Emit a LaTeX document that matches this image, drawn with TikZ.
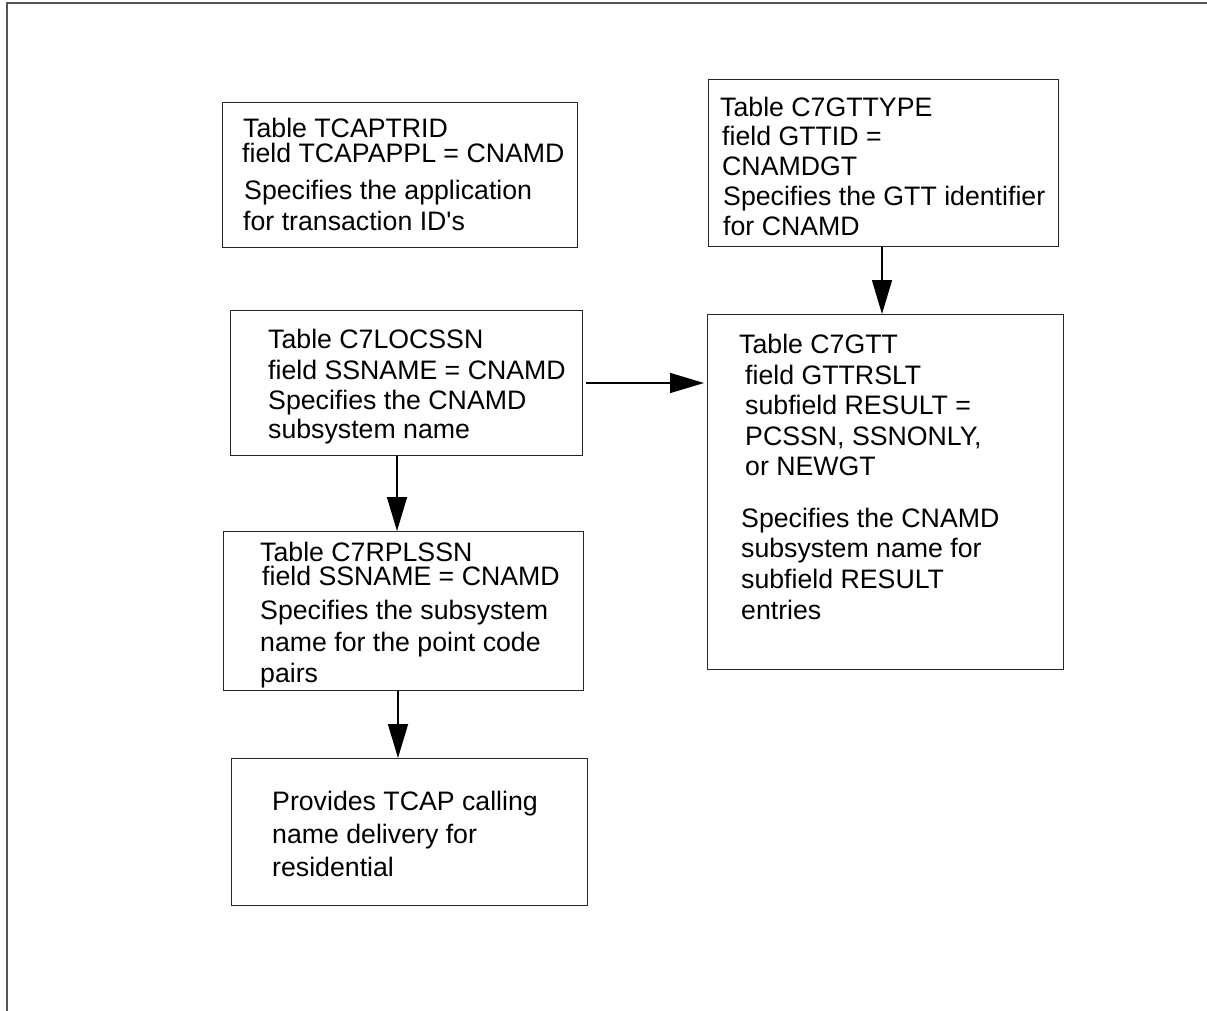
\documentclass[tikz,border=0pt]{standalone}
\usepackage{fontspec}
\setmainfont{Liberation Sans}[Ligatures=TeXOff]
\usetikzlibrary{arrows.meta}

\begin{document}
\begin{tikzpicture}[x=1pt, y=-1pt,
  tbox/.style={draw=black!85, line width=1.2pt, inner sep=0pt, anchor=north west},
  txt/.style={anchor=base west, inner sep=0pt, font=\fontsize{26.7}{30}\selectfont},
  arr/.style={line width=1.6pt, -{Triangle[length=34pt, width=20pt]}},
  frameline/.style={draw={rgb,255:red,85;green,85;blue,85}, line width=2pt}
]
\useasboundingbox (0,0) rectangle (1207,1011);

% open frame: top edge and left edge
\draw[frameline] (1207,3.5) -- (6.5,3.5) -- (6.5,1011);

% boxes
\node[tbox, minimum width=355pt, minimum height=145pt] (trid)  at (222,102) {};
\node[tbox, minimum width=350pt, minimum height=167pt] (gtype) at (708,79)  {};
\node[tbox, minimum width=352pt, minimum height=145pt] (loc)   at (230,310) {};
\node[tbox, minimum width=356pt, minimum height=355pt] (gtt)   at (707,314) {};
\node[tbox, minimum width=360pt, minimum height=159pt] (rpl)   at (223,531) {};
\node[tbox, minimum width=356pt, minimum height=147pt] (prov)  at (231,758) {};

% texts of table TCAPTRID
\node[txt] (trid1) at (243,138) {Table TCAPTRID};
\node[txt] (trid2) at (242,163) {field TCAPAPPL = CNAMD};
\node[txt] (trid3) at (244,200) {Specifies the application};
\node[txt] (trid4) at (243,230) {for transaction ID's};

% texts of table C7GTTYPE
\node[txt] (gtype1) at (720,117) {Table C7GTTYPE};
\node[txt] (gtype2) at (722,146) {field GTTID =};
\node[txt] (gtype3) at (722,176) {CNAMDGT};
\node[txt] (gtype4) at (723,206) {Specifies the GTT identifier};
\node[txt] (gtype5) at (723,236) {for CNAMD};

% texts of table C7LOCSSN
\node[txt] (loc1) at (268,348) {Table C7LOCSSN};
\node[txt] (loc2) at (268,379) {field SSNAME = CNAMD};
\node[txt] (loc3) at (268,409) {Specifies the CNAMD};
\node[txt] (loc4) at (268,438) {subsystem name};

% texts of table C7GTT
\node[txt] (gtt1) at (739,353) {Table C7GTT};
\node[txt] (gtt2) at (745,384) {field GTTRSLT};
\node[txt] (gtt3) at (745,414) {subfield RESULT =};
\node[txt] (gtt4) at (745,445) {PCSSN, SSNONLY,};
\node[txt] (gtt5) at (745,475) {or NEWGT};
\node[txt] (gtt6) at (741,527) {Specifies the CNAMD};
\node[txt] (gtt7) at (741,557) {subsystem name for};
\node[txt] (gtt8) at (741,588) {subfield RESULT};
\node[txt] (gtt9) at (741,619) {entries};

% texts of table C7RPLSSN
\node[txt] (rpl1) at (260,561) {Table C7RPLSSN};
\node[txt] (rpl2) at (262,585) {field SSNAME = CNAMD};
\node[txt] (rpl3) at (260,619) {Specifies the subsystem};
\node[txt] (rpl4) at (260,651) {name for the point code};
\node[txt] (rpl5) at (260,682) {pairs};

% result
\node[txt] (prov1) at (272,810) {Provides TCAP calling};
\node[txt] (prov2) at (272,843) {name delivery for};
\node[txt] (prov3) at (272,876) {residential};

% connectors
\coordinate (xa) at (882,0);
\coordinate (xb) at (397,0);
\coordinate (xc) at (398,0);
\coordinate (ya) at (0,383);
\draw[arr] (xa |- gtype.south) -- (xa |- gtt.north);
\draw[arr, shorten <=3pt, shorten >=3pt] (ya -| loc.east) -- (ya -| gtt.west);
\draw[arr] (xb |- loc.south) -- (xb |- rpl.north);
\draw[arr] (xc |- rpl.south) -- (xc |- prov.north);
\end{tikzpicture}
\end{document}
